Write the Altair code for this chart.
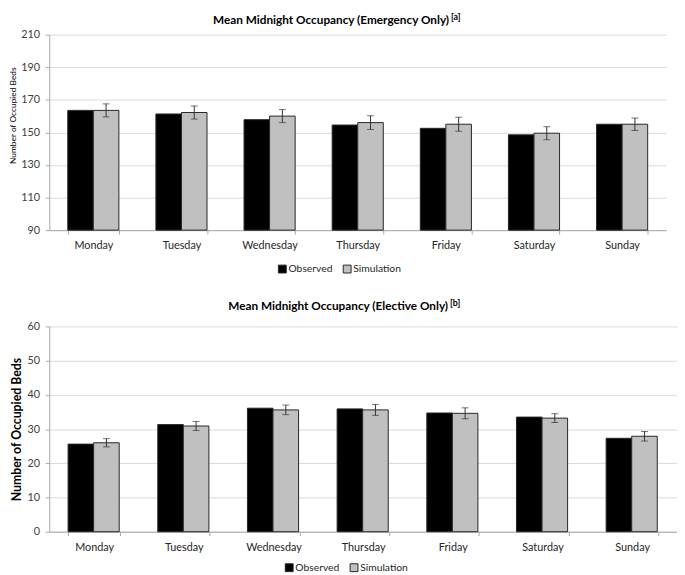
import altair as alt
import pandas as pd

days = ["Monday", "Tuesday", "Wednesday", "Thursday", "Friday", "Saturday", "Sunday"]
series = ["Observed", "Simulation"]

# Emergency only
obs_e = [163.5, 161.3, 157.8, 154.5, 152.5, 148.5, 155.0]
sim_e = [163.5, 162.2, 160.0, 156.0, 155.0, 149.5, 155.0]
err_e = [4.0, 4.0, 4.0, 4.2, 4.3, 4.0, 3.8]

# Elective only
obs_l = [25.6, 31.3, 36.1, 35.9, 34.7, 33.5, 27.3]
sim_l = [26.0, 30.9, 35.6, 35.6, 34.6, 33.2, 27.9]
err_l = [1.2, 1.3, 1.4, 1.6, 1.6, 1.3, 1.4]

FONT = "Lato"


def panel(obs, sim, err, ymin, ymax, step, title, sup, width, height,
          title_x, title_y, legend_x, legend_y, ytitle_style):
    df = pd.DataFrame({
        "day": days * 2,
        "series": ["Observed"] * 7 + ["Simulation"] * 7,
        "value": list(obs) + list(sim),
    })
    edf = pd.DataFrame({
        "day": days,
        "series": ["Simulation"] * 7,
        "lo": [s - e for s, e in zip(sim, err)],
        "hi": [s + e for s, e in zip(sim, err)],
    })
    x = alt.X("day:N", sort=days, title=None,
              scale=alt.Scale(paddingInner=0.42, paddingOuter=0.21),
              axis=alt.Axis(labelAngle=0, labelFontSize=11, labelColor="#262626",
                            labelFont=FONT, labelPadding=6, tickBand="extent",
                            tickSize=4, tickColor="#a6a6a6", domainColor="#a6a6a6",
                            grid=False))
    xo = alt.XOffset("series:N", sort=series,
                     scale=alt.Scale(paddingInner=0, paddingOuter=0))
    yscale = alt.Scale(domain=[ymin, ymax], nice=False, zero=False)
    vals = list(range(ymin, ymax + 1, step))
    yaxis = alt.Axis(values=vals, title="Number of Occupied Beds", titleFont=FONT,
                     titleColor="#000000", titlePadding=3, labelFont=FONT,
                     labelFontSize=11, labelColor="#404040", labelPadding=6,
                     tickSize=4, tickColor="#a6a6a6", domainColor="#a6a6a6",
                     gridColor="#d9d9d9", gridWidth=1, **ytitle_style)
    bars = alt.Chart(df).mark_bar(stroke="#262626", strokeWidth=1).encode(
        x=x, xOffset=xo,
        y=alt.Y("value:Q", scale=yscale, axis=yaxis),
        y2=alt.datum(ymin),
        color=alt.Color("series:N", sort=series,
                        scale=alt.Scale(domain=series, range=["#000000", "#c0c0c0"]),
                        legend=alt.Legend(title=None, orient="none", direction="horizontal",
                                          legendX=legend_x, legendY=legend_y,
                                          symbolType="square", symbolSize=64,
                                          symbolStrokeColor="#262626", symbolStrokeWidth=1,
                                          labelFont=FONT, labelFontSize=10.5,
                                          labelColor="#262626", labelOffset=1,
                                          columnPadding=8)),
    )
    rule = alt.Chart(edf).mark_rule(color="#333333", strokeWidth=1).encode(
        x=x, xOffset=xo, y=alt.Y("lo:Q", scale=yscale, axis=yaxis), y2="hi:Q")
    cap_lo = alt.Chart(edf).mark_tick(color="#333333", thickness=1, size=7).encode(
        x=x, xOffset=xo, y=alt.Y("lo:Q", scale=yscale, axis=yaxis))
    cap_hi = alt.Chart(edf).mark_tick(color="#333333", thickness=1, size=7).encode(
        x=x, xOffset=xo, y=alt.Y("hi:Q", scale=yscale, axis=yaxis))
    tdf = pd.DataFrame({"t": [title], "s": [sup]})
    ttl = alt.Chart(tdf).mark_text(font=FONT, fontSize=12, fontWeight="bold",
                                   align="right", baseline="middle", color="#000000").encode(
        text="t:N", x=alt.value(title_x), y=alt.value(title_y))
    sp = alt.Chart(tdf).mark_text(font=FONT, fontSize=9, fontWeight="bold",
                                  align="left", baseline="middle", color="#000000").encode(
        text="s:N", x=alt.value(title_x + 2), y=alt.value(title_y - 3))
    return alt.layer(bars, rule, cap_lo, cap_hi, ttl, sp).properties(width=width, height=height)


top = panel(obs_e, sim_e, err_e, 90, 210, 20,
            "Mean Midnight Occupancy  (Emergency  Only)", "[a]",
            628, 199, 407, -15, 232, 233,
            {"titleFontSize": 8.5, "titleFontWeight": "normal", "titleY": 82})
bottom = panel(obs_l, sim_l, err_l, 0, 60, 10,
               "Mean Midnight Occupancy  (Elective  Only)", "[b]",
               639, 209, 406, -21, 239, 240,
               {"titleFontSize": 12.5, "titleFontWeight": "bold"})

chart = alt.concat(top, bottom, columns=1, spacing=24, align="none").properties(
    padding={"left": 0, "top": 0, "right": 0, "bottom": 0}
).resolve_legend(color="independent").resolve_scale(color="independent").configure_view(
    stroke=None).configure_axis(labelFont=FONT)

chart.save("out.html", embed_options={"renderer": "svg", "actions": False})
